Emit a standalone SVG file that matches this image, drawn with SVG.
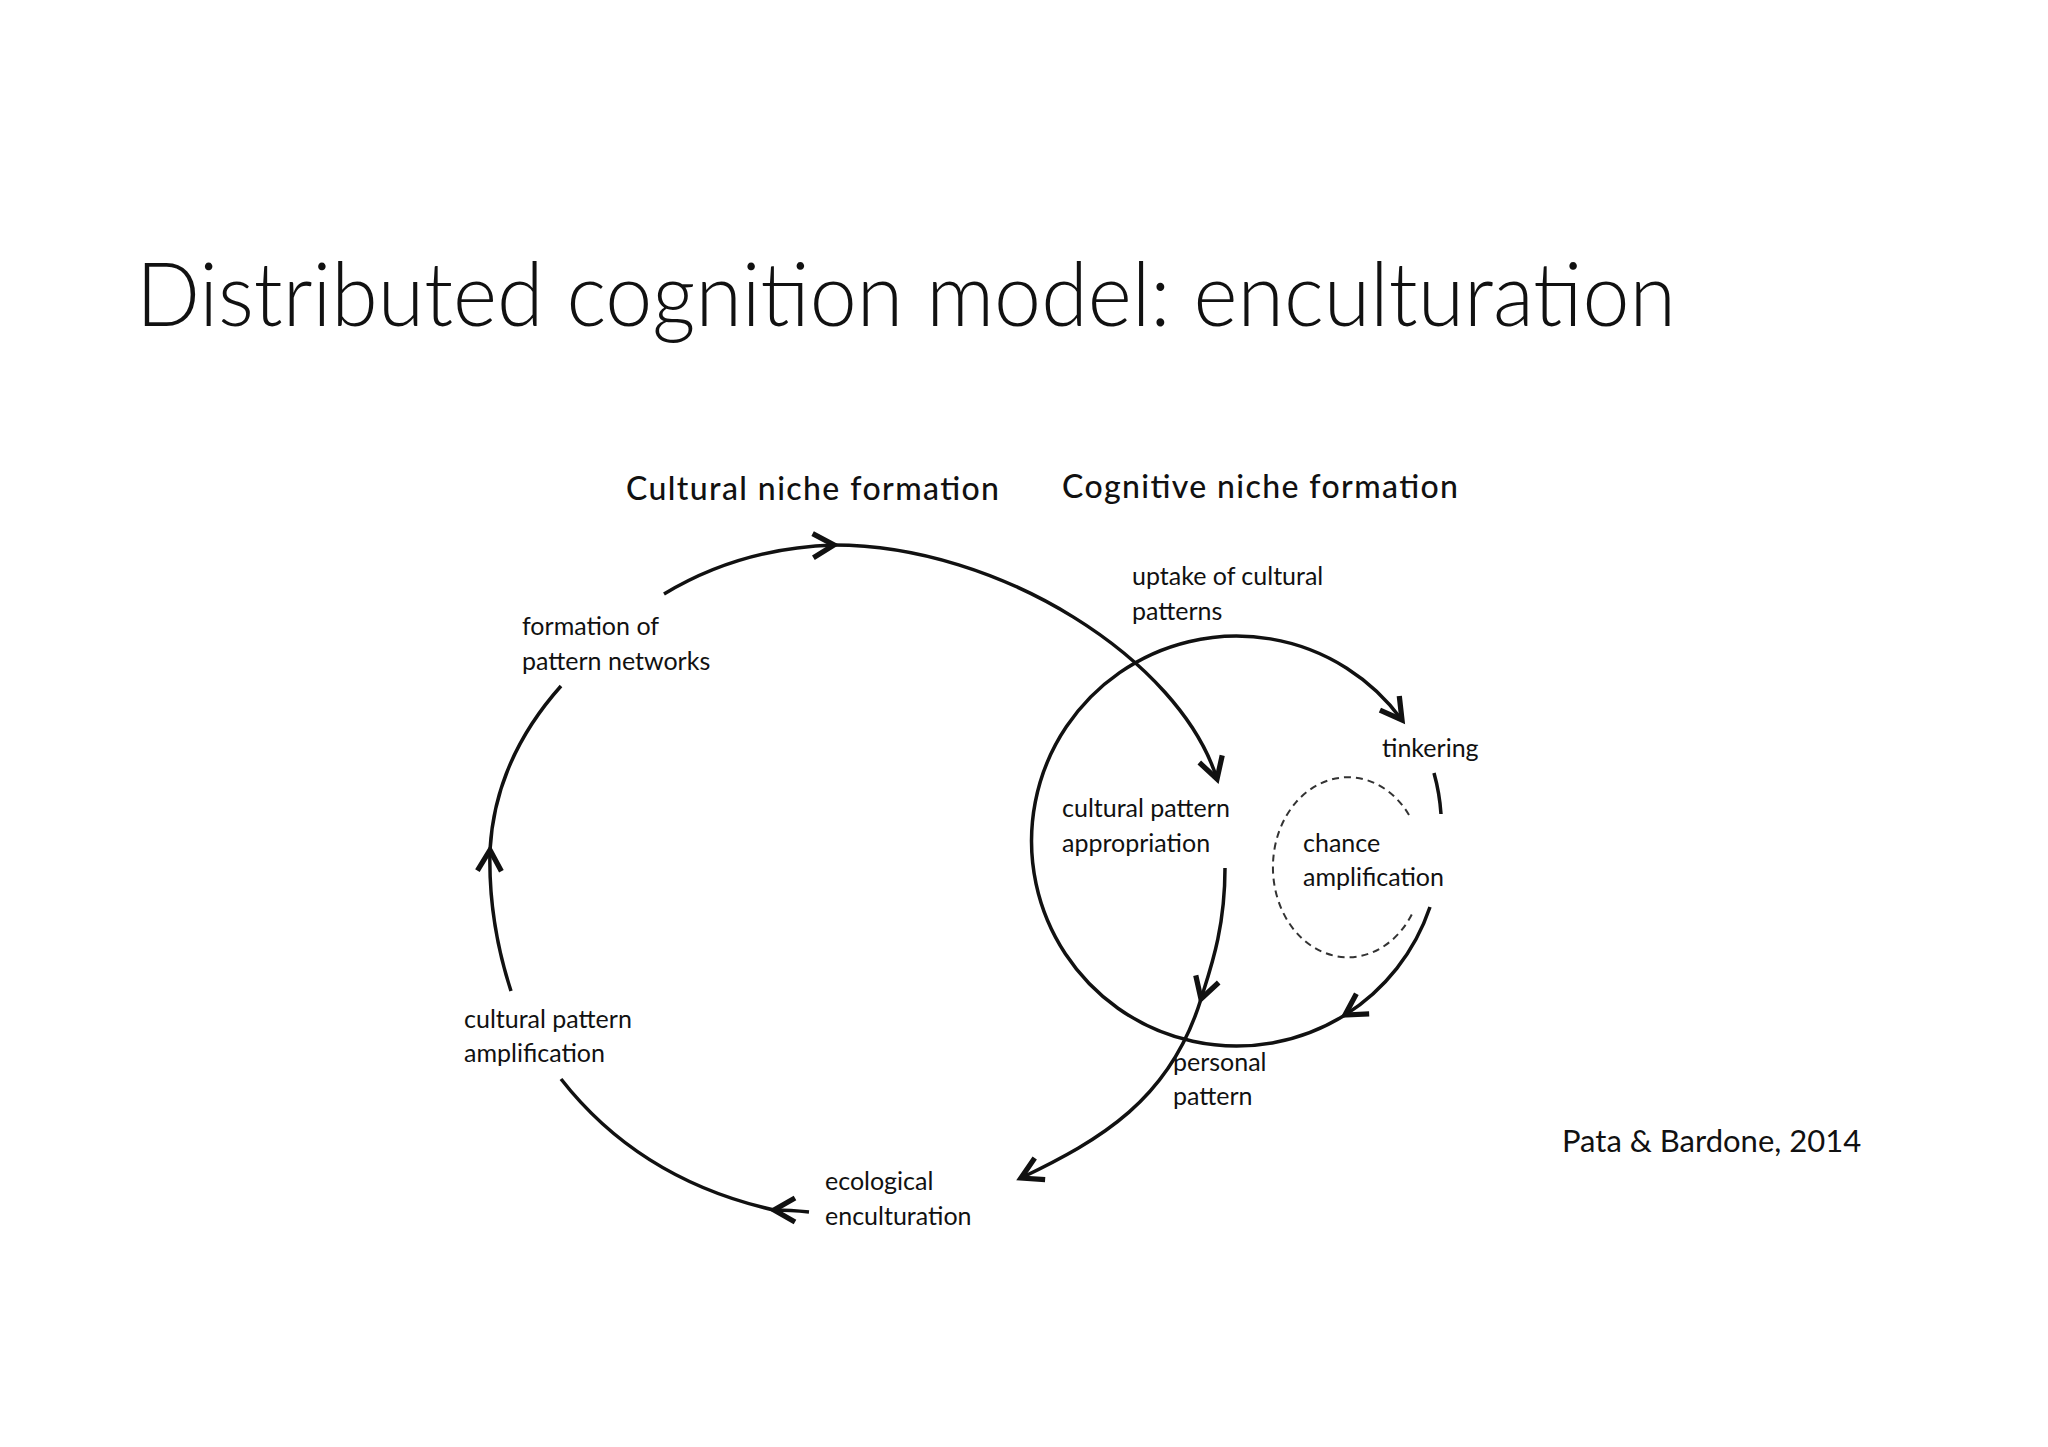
<svg xmlns="http://www.w3.org/2000/svg" width="2048" height="1447" viewBox="0 0 2048 1447">
<style>
text{font-family:Lato,"Open Sans","Liberation Sans",sans-serif;fill:#111}
.lbl{font-size:25px}
.hd{font-size:32px;font-weight:500}
.ln{fill:none;stroke:#111;stroke-width:3.5}
</style>
<defs>
<marker id="ah" markerUnits="userSpaceOnUse" markerWidth="30" markerHeight="30" refX="0" refY="0" viewBox="-16 -10 20 20" orient="auto">
<path d="M-14,-8 L0,0 L-14,8" fill="none" stroke="#111" stroke-width="3.5"/>
</marker>
</defs>
<rect width="2048" height="1447" fill="#fff"/>
<text x="136" y="326" font-size="88" font-weight="300" textLength="1540" lengthAdjust="spacingAndGlyphs">Distributed cognition model: enculturation</text>
<g id="headers">
<text class="hd" x="626" y="500" textLength="373">Cultural niche formation</text>
<text class="hd" x="1062" y="498" textLength="396">Cognitive niche formation</text>
</g>
<g id="connectors">
<path class="ln" d="M664,594 Q740,548 834,545" marker-end="url(#ah)"/>
<path class="ln" d="M834,545 C1000,545 1180,660 1217,779" marker-end="url(#ah)"/>
<path class="ln" d="M511,991 Q488,920 490,850" marker-end="url(#ah)"/>
<path class="ln" d="M490,850 Q495,760 561,686"/>
<path class="ln" d="M809,1212 Q790,1210 774,1210" marker-end="url(#ah)"/>
<path class="ln" d="M774,1210 Q640,1180 561,1079"/>
<path class="ln" d="M1225,868 C1225,930 1210,970 1201,999" marker-end="url(#ah)"/>
<path class="ln" d="M1201,999 C1170,1100 1100,1140 1021,1178" marker-end="url(#ah)"/>
<path class="ln" d="M1430,907 A205,205 0 0 1 1345,1015" marker-end="url(#ah)"/>
<path class="ln" d="M1345,1015 A205,205 0 1 1 1402,720" marker-end="url(#ah)"/>
<path class="ln" d="M1434,773 A205,205 0 0 1 1441,814"/>
<path fill="none" stroke="#333" stroke-width="2" stroke-dasharray="7,5" d="M1409,815 A75,90 0 1 0 1413,912"/>
</g>
<g id="n-formation"><text class="lbl" x="522" y="635">formation of</text><text class="lbl" x="522" y="670">pattern networks</text></g>
<g id="n-uptake"><text class="lbl" x="1132" y="585">uptake of cultural</text><text class="lbl" x="1132" y="620">patterns</text></g>
<g id="n-tinkering"><text class="lbl" x="1382" y="757">tinkering</text></g>
<g id="n-appropriation"><text class="lbl" x="1062" y="817">cultural pattern</text><text class="lbl" x="1062" y="852">appropriation</text></g>
<g id="n-chance"><text class="lbl" x="1303" y="852">chance</text><text class="lbl" x="1303" y="886">amplification</text></g>
<g id="n-amplification"><text class="lbl" x="464" y="1028">cultural pattern</text><text class="lbl" x="464" y="1062">amplification</text></g>
<g id="n-personal"><text class="lbl" x="1173" y="1071">personal</text><text class="lbl" x="1173" y="1105">pattern</text></g>
<g id="n-ecological"><text class="lbl" x="825" y="1190">ecological</text><text class="lbl" x="825" y="1225">enculturation</text></g>
<text x="1562" y="1152" font-size="31">Pata &amp; Bardone, 2014</text>
</svg>
